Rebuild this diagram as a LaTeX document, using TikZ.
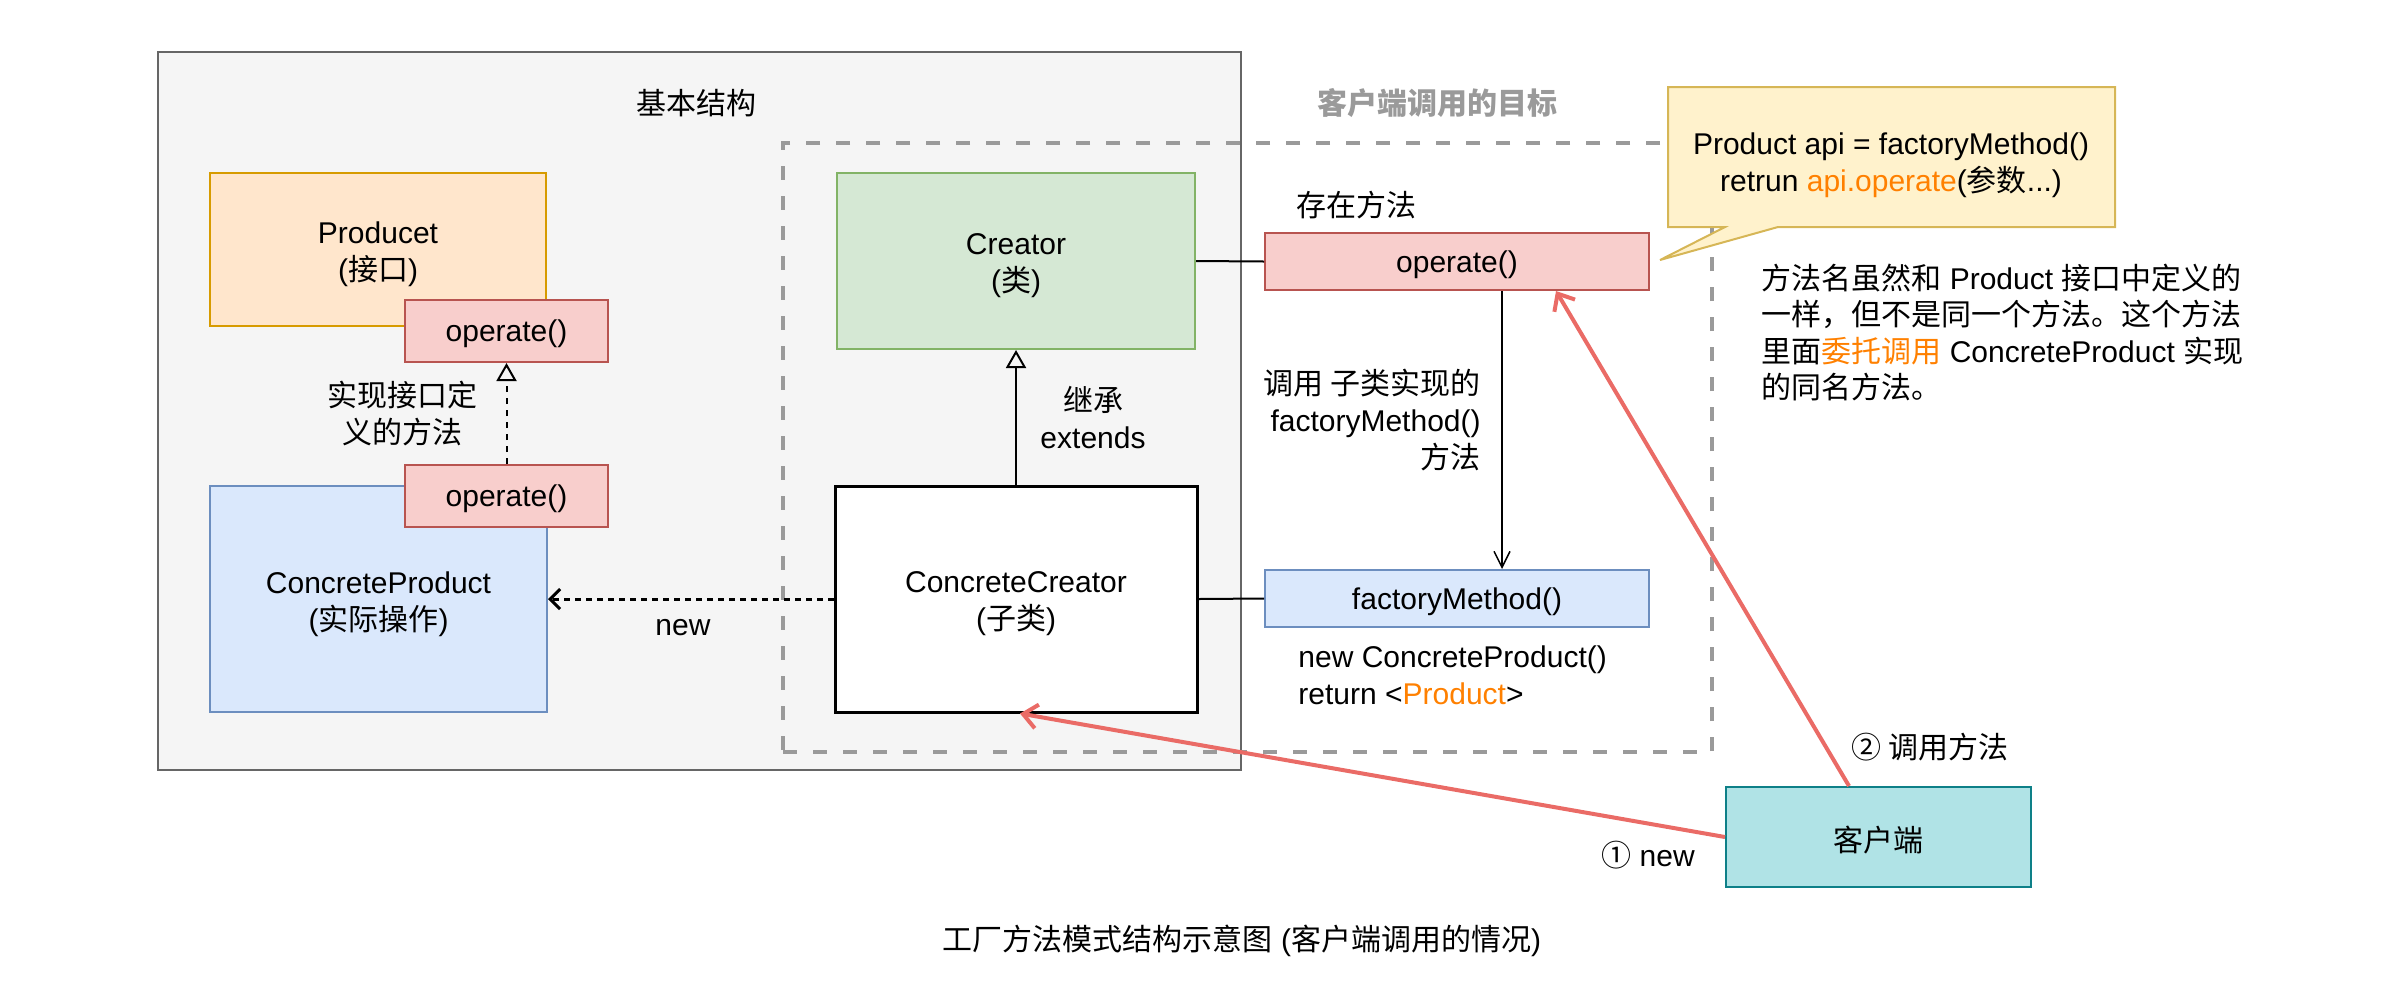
\documentclass[tikz,border=0pt]{standalone}
\usepackage{fontspec}
\setmainfont{Liberation Sans}
\newfontfamily\cjk{Noto Sans CJK SC}
\usetikzlibrary{arrows.meta}

\definecolor{bgGrey}{HTML}{F5F5F5}
\definecolor{edgeGrey}{HTML}{666666}
\definecolor{dashGrey}{HTML}{9A9A9A}
\definecolor{ifaceFill}{HTML}{FFE6CC}
\definecolor{ifaceLine}{HTML}{D79B00}
\definecolor{methodFill}{HTML}{F8CECC}
\definecolor{methodLine}{HTML}{B85450}
\definecolor{classFill}{HTML}{D5E8D4}
\definecolor{classLine}{HTML}{82B366}
\definecolor{implFill}{HTML}{DAE8FC}
\definecolor{implLine}{HTML}{6C8EBF}
\definecolor{noteFill}{HTML}{FFF2CC}
\definecolor{noteLine}{HTML}{D6B656}
\definecolor{clientFill}{HTML}{B0E3E6}
\definecolor{clientLine}{HTML}{0E8088}
\definecolor{callRed}{HTML}{EA6B66}
\definecolor{accent}{HTML}{FF8000}

% Chinese text in the CJK family
\newcommand\hz[1]{{\cjk #1}}

\begin{document}
\begin{tikzpicture}[x=0.5pt,y=-0.5pt,
  every node/.style={font=\fontsize{15pt}{18.5pt}\selectfont, inner sep=0pt, align=center},
  basebox/.style={draw=edgeGrey, fill=bgGrey, line width=1pt},
  targetbox/.style={draw=dashGrey, line width=2pt, dash pattern=on 7pt off 8pt},
  ifacebox/.style={draw=ifaceLine, fill=ifaceFill, line width=1pt},
  methodbox/.style={draw=methodLine, fill=methodFill, line width=1pt},
  classbox/.style={draw=classLine, fill=classFill, line width=1pt},
  implbox/.style={draw=implLine, fill=implFill, line width=1pt},
  subbox/.style={draw=black, fill=white, line width=1.5pt},
  clientbox/.style={draw=clientLine, fill=clientFill, line width=1pt},
  % box captions, set slightly below the geometric centre
  twolines/.style={label={[yshift=-2.5pt]center:#1}},
  oneline/.style={label={[yshift=-1.5pt]center:#1}},
  inherit/.style={line width=1pt, -{Triangle[open, length=9pt, width=10pt]}},
  realize/.style={line width=1pt, dash pattern=on 3pt off 3pt, -{Triangle[open, length=9pt, width=10pt]}},
  create/.style={line width=1.5pt, dash pattern=on 3pt off 2.5pt, -{Straight Barb[length=5pt, width=10pt]}},
  plain/.style={line width=1pt},
  callarrow/.style={line width=0.75pt, -{Straight Barb[length=8pt, width=8pt]}},
  clientcall/.style={draw=callRed, line width=2pt, -{Straight Barb[length=7pt, width=12pt]}}
]
\useasboundingbox (0,0) rectangle (2401,1002);

% containers
\node[basebox, minimum width=541.5pt, minimum height=359pt] (base) at (699.5,411) {};
\node (baseTitle) at (696,103) {\hz{基本结构}};
\node[targetbox, minimum width=464.5pt, minimum height=304.5pt] (target) at (1247.5,447.5) {};
\node[font=\fontsize{15pt}{18.5pt}\selectfont\bfseries, text=dashGrey] (targetTitle) at (1437,103) {\hz{客户端调用的目标}};

% product side
\node[ifacebox, minimum width=168pt, minimum height=76.5pt, twolines={Producet\\(\hz{接口})}] (product) at (378,249.5) {};
\node[methodbox, minimum width=101.5pt, minimum height=31pt, oneline={operate()}] (opIface) at (506.5,331) {};
\node[implbox, minimum width=168.5pt, minimum height=113pt, twolines={ConcreteProduct\\(\hz{实际操作})}] (cprod) at (378.5,599) {};
\node[methodbox, minimum width=101.5pt, minimum height=31pt, oneline={operate()}] (opImpl) at (506.5,496) {};

% creator side
\node[classbox, minimum width=179pt, minimum height=88pt, twolines={Creator\\(\hz{类})}] (creator) at (1016,261) {};
\node[subbox, minimum width=181pt, minimum height=113pt, twolines={ConcreteCreator\\(\hz{子类})}] (ccreator) at (1016,599) {};
\node[methodbox, minimum width=192pt, minimum height=28.5pt, oneline={operate()}] (opMain) at (1457,261.5) {};
\node[implbox, minimum width=192pt, minimum height=28.5pt, oneline={factoryMethod()}] (fm) at (1457,598.5) {};

% speech bubble
\draw[draw=noteLine, fill=noteFill, line width=1pt, line join=miter]
  (1668,87) -- (2115,87) -- (2115,227) -- (1778,227) -- (1660,260) -- (1725,227) -- (1668,227) -- cycle;
\node (bubbleText) at (1891,165) {Product api = factoryMethod()\\retrun \textcolor{accent}{api.operate}(\hz{参数}...)};

% client
\node[clientbox, minimum width=152.5pt, minimum height=50pt, oneline={\hz{客户端}}] (client) at (1878.5,837) {};

% labels
\node (implLabel) at (402,414) {\hz{实现接口定}\\\hz{义的方法}};
\node (extLabel) at (1093,418) {\hz{继承}\\extends};
\node (newLabel) at (683,628) {new};
\node (existLabel) at (1356,205) {\hz{存在方法}};
\node[align=right, anchor=east] (callLabel) at (1481,420) {\hz{调用 子类实现的}\\factoryMethod()\\\hz{方法}};
\node[align=left, anchor=west] (fmBody) at (1298,675) {new ConcreteProduct()\\return <\textcolor{accent}{Product}>};
\node[align=left, anchor=west, font=\fontsize{15pt}{18.2pt}\selectfont] (note) at (1761,332.5)
  {\hz{方法名虽然和} Product \hz{接口中定义的}\\
   \hz{一样，但不是同一个方法。这个方法}\\
   \hz{里面}\textcolor{accent}{\hz{委托调用}} ConcreteProduct \hz{实现}\\
   \hz{的同名方法。}};
\node (stepTwo) at (1930,747) {\hz{② 调用方法}};
\node (stepOne) at (1648,855) {\hz{①} new};
\node (caption) at (1242,941) {\hz{工厂方法模式结构示意图} (\hz{客户端调用的情况})};

% connectors
\draw[realize] (opImpl) -- (opIface);
\draw[inherit] (ccreator) -- (creator);
\draw[create] (ccreator) -- (cprod);
\draw[plain] (creator.east) -- (opMain.west);
\draw[plain] (ccreator.east) -- (fm.west);
\draw[callarrow] ([xshift=22.5pt]opMain.south) -- ([xshift=22.5pt]fm.north);
\draw[clientcall] ([xshift=-14.75pt]client.north) -- ([xshift=49.5pt]opMain.south);
\draw[clientcall] (client.west) -- ([xshift=2pt]ccreator.south);
\end{tikzpicture}
\end{document}
